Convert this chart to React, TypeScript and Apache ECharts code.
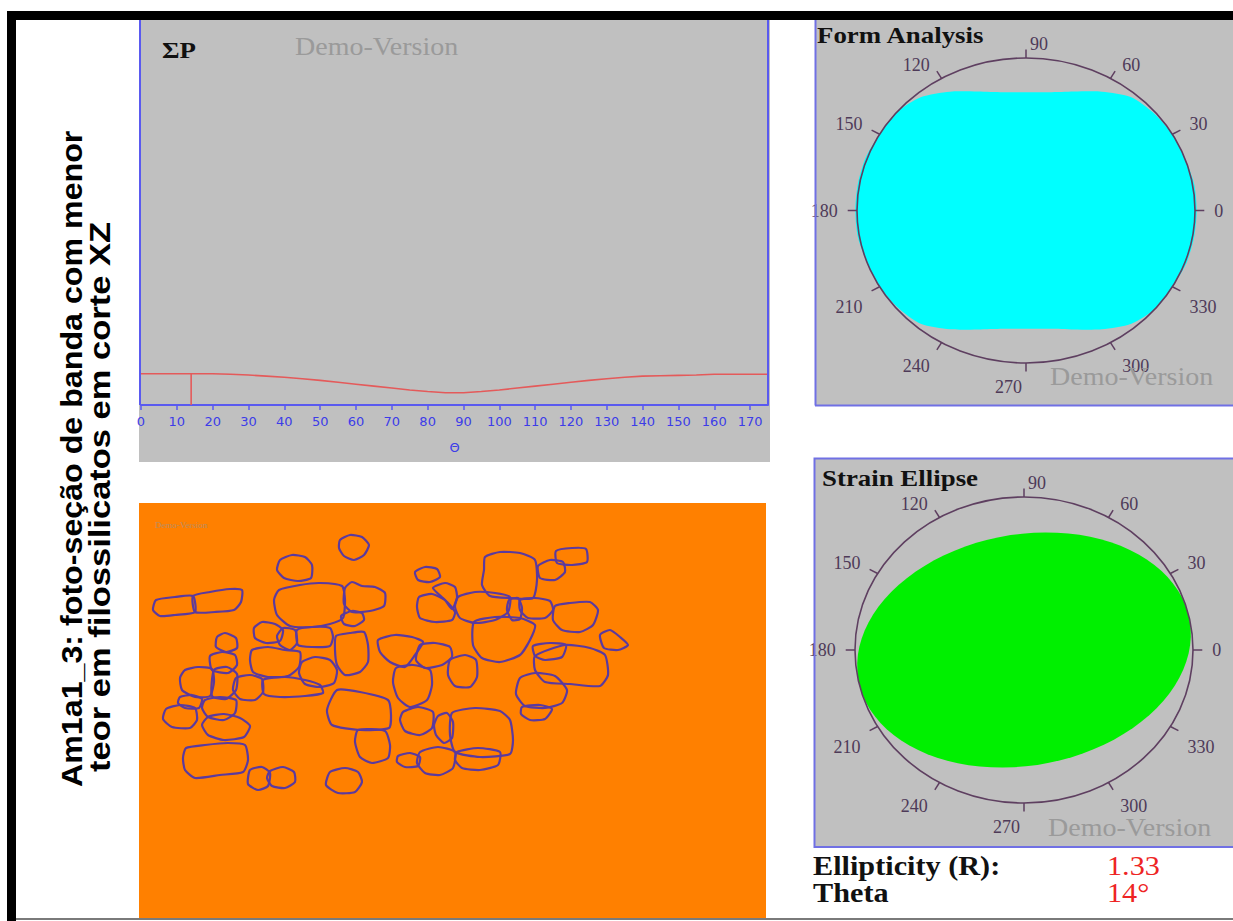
import React, { useEffect, useRef } from "react";
import * as echarts from "echarts";

const PAGE_W = 1233;
const PAGE_H = 921;
const D = Math.PI / 180;

// ΣP profile against Θ, sampled every 5°
const THETA_SAMPLES = [
  0, 5, 10, 15, 20, 25, 30, 35, 40, 45, 50, 55, 60, 65, 70, 75, 80, 85,
  90, 95, 100, 105, 110, 115, 120, 125, 130, 135, 140, 145, 150, 155, 160, 165, 170, 175,
];
const SIGMA_P = [
  8.1, 8.1, 8.1, 8.1, 8.1, 8.0, 7.8, 7.5, 7.2, 6.8, 6.4, 5.9, 5.4, 4.9, 4.4, 3.9, 3.5, 3.2,
  3.2, 3.5, 3.9, 4.4, 4.9, 5.4, 5.9, 6.4, 6.8, 7.2, 7.5, 7.6, 7.7, 7.8, 8.0, 8.0, 8.0, 8.0,
];
const THETA_AXIS_MAX = 175;
const THETA_TICK_STEP = 10;
const SIGMA_AXIS_MAX = 100;

// Form analysis rose: normalised radius every 10° (axial data, 0–170°)
const FORM_ANGLES = [0, 10, 20, 30, 40, 50, 60, 70, 80, 90, 100, 110, 120, 130, 140, 150, 160, 170];
const FORM_RADII = [1.01, 1.01, 1.0, 1.0, 0.99, 0.97, 0.9, 0.83, 0.787, 0.776, 0.787, 0.83, 0.9, 0.97, 1.0, 1.0, 1.01, 1.01];

// Ring tick angles (labelled)
const RING_ANGLES = [0, 30, 60, 90, 120, 150, 180, 210, 240, 270, 300, 330];

// Strain ellipse result
const ELLIPTICITY = 1.33;
const THETA = 14;

// Digitised grain outlines in photo pixels (627 × 415 frame), flat x,y lists
const PHOTO_W = 627;
const PHOTO_H = 415;
const GRAINS: number[][] = [
  [201, 37, 211, 32, 223, 34, 230, 42, 225, 52, 215, 57, 205, 53, 200, 45],
  [141, 57, 153, 52, 166, 54, 173, 62, 172, 75, 159, 78, 145, 75, 138, 67],
  [17, 97, 36, 94, 54, 93, 56, 109, 36, 112, 21, 113, 14, 107],
  [54, 93, 71, 89, 91, 86, 103, 87, 102, 99, 95, 107, 76, 109, 56, 109],
  [140, 87, 161, 82, 181, 80, 203, 83, 206, 97, 204, 115, 191, 121, 173, 124, 151, 123, 138, 112, 135, 97],
  [206, 85, 213, 79, 223, 83, 236, 84, 246, 90, 245, 103, 231, 108, 213, 109, 205, 101],
  [202, 113, 213, 108, 223, 110, 225, 117, 216, 123, 205, 121],
  [276, 69, 286, 64, 298, 66, 301, 74, 291, 79, 279, 77],
  [280, 94, 293, 91, 306, 97, 316, 109, 313, 117, 296, 119, 281, 115, 278, 104],
  [294, 85, 306, 80, 316, 84, 318, 95, 313, 106, 306, 97],
  [115, 125, 123, 119, 136, 121, 144, 127, 141, 138, 127, 140, 116, 135],
  [144, 125, 156, 127, 158, 140, 151, 147, 141, 142, 138, 133],
  [158, 127, 173, 124, 191, 125, 194, 134, 191, 143, 173, 144, 159, 142],
  [78, 134, 86, 130, 97, 135, 98, 145, 87, 149, 77, 144],
  [197, 133, 211, 130, 225, 129, 229, 142, 229, 159, 221, 169, 206, 172, 198, 162, 196, 147],
  [113, 147, 129, 144, 146, 147, 161, 149, 160, 164, 149, 173, 129, 174, 114, 169, 111, 157],
  [163, 159, 176, 154, 191, 157, 198, 167, 195, 180, 181, 184, 166, 181, 160, 170],
  [71, 153, 83, 149, 96, 152, 98, 162, 89, 170, 73, 167],
  [46, 167, 59, 164, 73, 166, 75, 179, 71, 193, 56, 194, 43, 187, 41, 175],
  [75, 167, 88, 164, 98, 171, 97, 187, 87, 196, 73, 193],
  [97, 175, 111, 172, 123, 176, 124, 189, 116, 197, 101, 196, 94, 187],
  [124, 177, 146, 174, 166, 177, 181, 182, 184, 190, 166, 193, 141, 194, 125, 191],
  [41, 194, 53, 192, 63, 196, 60, 205, 46, 205, 39, 200],
  [27, 206, 41, 202, 56, 205, 58, 217, 51, 225, 33, 224, 24, 216],
  [66, 197, 81, 194, 97, 197, 96, 210, 85, 217, 69, 214, 63, 205],
  [69, 214, 85, 211, 101, 215, 111, 223, 105, 234, 85, 237, 69, 232, 63, 222],
  [47, 245, 66, 242, 89, 240, 106, 242, 109, 257, 104, 269, 81, 272, 56, 275, 46, 267, 44, 255],
  [111, 267, 123, 264, 131, 270, 129, 283, 119, 287, 109, 281],
  [131, 268, 144, 264, 155, 269, 156, 279, 146, 285, 133, 283, 128, 275],
  [191, 269, 206, 265, 219, 269, 223, 279, 216, 289, 199, 290, 187, 282],
  [198, 187, 221, 189, 249, 197, 252, 212, 250, 225, 221, 227, 193, 222, 188, 207],
  [219, 227, 246, 228, 251, 242, 249, 255, 233, 260, 221, 254, 216, 239],
  [239, 137, 256, 132, 273, 134, 284, 139, 276, 152, 266, 164, 251, 159, 241, 149],
  [281, 142, 296, 140, 311, 144, 313, 154, 303, 162, 286, 165, 277, 157],
  [257, 165, 274, 162, 291, 167, 293, 182, 288, 197, 271, 204, 259, 195, 254, 179],
  [311, 157, 326, 152, 337, 157, 338, 174, 331, 184, 316, 183, 309, 172],
  [335, 119, 356, 114, 381, 115, 396, 122, 391, 137, 381, 152, 361, 159, 343, 155, 334, 142],
  [264, 209, 279, 204, 294, 209, 293, 225, 281, 232, 266, 228, 261, 217],
  [299, 213, 308, 210, 314, 219, 313, 235, 305, 240, 297, 232, 295, 222],
  [313, 210, 336, 205, 361, 208, 371, 217, 374, 237, 371, 251, 341, 254, 316, 249, 311, 232],
  [259, 253, 271, 250, 281, 254, 279, 263, 266, 264, 258, 259],
  [281, 249, 299, 244, 316, 249, 314, 265, 301, 272, 286, 270, 278, 260],
  [318, 249, 339, 245, 361, 249, 359, 262, 341, 267, 323, 265, 316, 257],
  [346, 54, 361, 49, 381, 50, 396, 57, 398, 77, 394, 95, 371, 95, 351, 93, 343, 82, 345, 67],
  [399, 63, 411, 57, 424, 59, 426, 69, 416, 77, 401, 75],
  [417, 48, 433, 45, 447, 46, 448, 59, 433, 62, 418, 60],
  [319, 94, 336, 89, 356, 90, 371, 94, 369, 109, 356, 117, 336, 120, 321, 115, 316, 104],
  [370, 97, 379, 95, 383, 105, 381, 116, 373, 117, 368, 107],
  [381, 97, 396, 95, 411, 98, 414, 107, 406, 115, 389, 115, 381, 107],
  [416, 103, 431, 100, 451, 99, 459, 107, 454, 122, 441, 129, 423, 127, 414, 117],
  [461, 132, 471, 127, 481, 134, 489, 142, 479, 147, 465, 145],
  [394, 143, 411, 140, 427, 142, 423, 154, 406, 157, 396, 153],
  [396, 153, 426, 142, 451, 145, 466, 152, 469, 172, 461, 183, 431, 181, 406, 179, 396, 167],
  [381, 175, 396, 170, 416, 173, 428, 187, 423, 200, 406, 205, 386, 203, 377, 191],
  [383, 204, 401, 202, 413, 206, 406, 216, 391, 217, 382, 211],
];

const TITLE_LINE_1 = "Am1a1_3: foto-seção de banda com menor";
const TITLE_LINE_2 = "teor em filossilicatos em corte XZ";

const BLUE_LINE = "#5a5af0";
const BLUE_TEXT = "#3c3ce8";
const PANEL_GRAY = "#c0c0c0";
const FRAME_BLUE = "#7070e4";
const RING_COLOR = "#5e3f60";
const RING_TEXT = "#4e3a58";
const DEMO_GRAY = "#9a9a9a";
const SERIF = "'Liberation Serif', 'Times New Roman', serif";
const SANS = "'Liberation Sans', Arial, sans-serif";
const STRETCH = 1.12;

function sigmaAt(theta: number): number {
  for (let i = 0; i < THETA_SAMPLES.length - 1; i++) {
    const a = THETA_SAMPLES[i];
    const b = THETA_SAMPLES[i + 1];
    if (theta >= a && theta <= b) {
      const t = (theta - a) / (b - a);
      return SIGMA_P[i] + t * (SIGMA_P[i + 1] - SIGMA_P[i]);
    }
  }
  return SIGMA_P[SIGMA_P.length - 1];
}

// Axial rose: the 0–170° radii repeat on the opposite side
const ROSE_POINTS: number[][] = [];
for (let k = 0; k < FORM_ANGLES.length * 2; k++) {
  const r = FORM_RADII[k % FORM_ANGLES.length];
  const a = (FORM_ANGLES[k % FORM_ANGLES.length] + (k >= FORM_ANGLES.length ? 180 : 0)) * D;
  ROSE_POINTS.push([r * Math.cos(a), r * Math.sin(a)]);
}

function ringSeries(gridIndex: number) {
  return [
    {
      type: "custom",
      coordinateSystem: "cartesian2d",
      xAxisIndex: gridIndex,
      yAxisIndex: gridIndex,
      silent: true,
      z: 4,
      data: [[0, 0]],
      renderItem: (_params: any, api: any) => {
        const c = api.coord([0, 0]);
        const s = api.size([1, 1]);
        return {
          type: "ellipse",
          shape: { cx: c[0], cy: c[1], rx: s[0], ry: s[1] },
          style: { fill: "none", stroke: RING_COLOR, lineWidth: 1.6 },
        };
      },
    },
    {
      type: "custom",
      coordinateSystem: "cartesian2d",
      xAxisIndex: gridIndex,
      yAxisIndex: gridIndex,
      silent: true,
      z: 4,
      data: RING_ANGLES.map((a) => [Math.cos(a * D), Math.sin(a * D)]),
      renderItem: (params: any, api: any) => {
        const cx = api.value(0);
        const sy = api.value(1);
        const p0 = api.coord([cx, sy]);
        const p1 = api.coord([cx * 1.055, sy * 1.055]);
        const right = cx > 1e-6 || (Math.abs(cx) <= 1e-6 && sy > 0);
        const gap = 4 + 6 * Math.abs(cx);
        let va = "middle";
        let dy = 0;
        if (sy > 0.2) {
          va = "bottom";
          dy = 3;
        } else if (sy < -0.2) {
          va = "top";
          dy = 7;
        }
        return {
          type: "group",
          children: [
            {
              type: "line",
              shape: { x1: p0[0], y1: p0[1], x2: p1[0], y2: p1[1] },
              style: { stroke: RING_COLOR, lineWidth: 1.5 },
            },
            {
              type: "text",
              x: p1[0] + (right ? gap : -gap),
              y: p1[1] + dy,
              style: {
                text: String(RING_ANGLES[params.dataIndex]),
                fill: RING_TEXT,
                fontSize: 18,
                fontFamily: SERIF,
                align: right ? "left" : "right",
                verticalAlign: va,
              },
            },
          ],
        };
      },
    },
  ];
}

function serifText(text: string, x: number, y: number, size: number, opts: any = {}) {
  return {
    type: "text",
    x,
    y,
    scaleX: STRETCH,
    z: 30,
    silent: true,
    style: {
      text,
      fill: opts.fill || "#111111",
      fontSize: size,
      fontFamily: SERIF,
      fontWeight: opts.bold ? "bold" : "normal",
      align: "left",
      verticalAlign: "middle",
    },
  };
}

// One line of the rotated caption, reading bottom to top from (x, y)
function captionLine(text: string, x: number, y: number, along: number) {
  return {
    type: "text",
    x,
    y,
    rotation: Math.PI / 2,
    scaleX: along,
    z: 30,
    silent: true,
    style: {
      text,
      fill: "#000000",
      fontSize: 30,
      fontWeight: "bold",
      fontFamily: SANS,
      align: "left",
      verticalAlign: "middle",
    },
  };
}

export default function App() {
  const ref = useRef<HTMLDivElement>(null);

  useEffect(() => {
    if (!ref.current) return;
    const chart = echarts.init(ref.current, undefined, { renderer: "svg" });

    const option: any = {
      animation: false,
      backgroundColor: "#ffffff",
      grid: [
        { left: 141, top: 20, width: 627, height: 385, show: false },
        { left: 139, top: 503, width: 627, height: 415, show: false },
        { left: 857, top: 58, width: 338, height: 305, show: false },
        { left: 855, top: 497, width: 338, height: 306, show: false },
      ],
      xAxis: [
        {
          gridIndex: 0,
          type: "value",
          min: 0,
          max: THETA_AXIS_MAX,
          interval: THETA_TICK_STEP,
          axisLine: { show: true, onZero: false, lineStyle: { color: BLUE_LINE, width: 2 } },
          axisTick: { show: true, length: 5, lineStyle: { color: BLUE_LINE, width: 1.5 } },
          axisLabel: {
            color: BLUE_TEXT,
            fontSize: 13,
            fontFamily: "'DejaVu Sans', sans-serif",
            margin: 10,
            showMaxLabel: false,
          },
          splitLine: { show: false },
          name: "Θ",
          nameLocation: "middle",
          nameGap: 36,
          nameTextStyle: { color: BLUE_TEXT, fontSize: 13, fontFamily: "'DejaVu Sans', sans-serif" },
        },
        { gridIndex: 1, type: "value", min: 0, max: PHOTO_W, show: false },
        { gridIndex: 2, type: "value", min: -1, max: 1, show: false },
        { gridIndex: 3, type: "value", min: -1, max: 1, show: false },
      ],
      yAxis: [
        { gridIndex: 0, type: "value", min: 0, max: SIGMA_AXIS_MAX, show: false },
        { gridIndex: 1, type: "value", min: 0, max: PHOTO_H, inverse: true, show: false },
        { gridIndex: 2, type: "value", min: -1, max: 1, show: false },
        { gridIndex: 3, type: "value", min: -1, max: 1, show: false },
      ],
      series: [
        {
          type: "line",
          xAxisIndex: 0,
          yAxisIndex: 0,
          silent: true,
          showSymbol: false,
          data: THETA_SAMPLES.map((t, i) => [t, SIGMA_P[i]]),
          lineStyle: { color: "#e45a5a", width: 1.6 },
        },
        {
          type: "line",
          xAxisIndex: 0,
          yAxisIndex: 0,
          silent: true,
          showSymbol: false,
          data: [
            [THETA, 0],
            [THETA, sigmaAt(THETA)],
          ],
          lineStyle: { color: "#e45a5a", width: 1.6 },
        },
        {
          type: "custom",
          coordinateSystem: "cartesian2d",
          xAxisIndex: 1,
          yAxisIndex: 1,
          silent: true,
          data: GRAINS.map((g) => [g[0], g[1]]),
          renderItem: (params: any, api: any) => {
            const flat = GRAINS[params.dataIndex];
            const pts: number[][] = [];
            for (let i = 0; i < flat.length; i += 2) pts.push(api.coord([flat[i], flat[i + 1]]));
            return {
              type: "polygon",
              shape: { points: pts, smooth: 0.2 },
              style: { fill: "none", stroke: "#5b3a9e", lineWidth: 2.2 },
            };
          },
        },
        {
          type: "custom",
          coordinateSystem: "cartesian2d",
          xAxisIndex: 2,
          yAxisIndex: 2,
          silent: true,
          z: 3,
          data: ROSE_POINTS,
          renderItem: (params: any, api: any) => {
            if (params.dataIndex !== 0) return null;
            const pts = ROSE_POINTS.map((p) => api.coord(p));
            return {
              type: "polygon",
              shape: { points: pts, smooth: 0.25 },
              style: { fill: "#00ffff", stroke: "none" },
            };
          },
        },
        ...ringSeries(2),
        {
          type: "custom",
          coordinateSystem: "cartesian2d",
          xAxisIndex: 3,
          yAxisIndex: 3,
          silent: true,
          z: 3,
          data: [[0, 0, ELLIPTICITY, THETA]],
          renderItem: (_params: any, api: any) => {
            const R = api.value(2);
            const th = api.value(3) * D;
            const a = 1;
            const b = 1 / R;
            const pts: number[][] = [];
            for (let t = 0; t < 360; t += 4) {
              const ex = a * Math.cos(t * D);
              const ey = b * Math.sin(t * D);
              pts.push(
                api.coord([ex * Math.cos(th) - ey * Math.sin(th), ex * Math.sin(th) + ey * Math.cos(th)])
              );
            }
            return {
              type: "polygon",
              shape: { points: pts },
              style: { fill: "#00f000", stroke: "none" },
            };
          },
        },
        ...ringSeries(3),
      ],
      graphic: {
        elements: [
          // panel backgrounds
          { type: "rect", z: -1, silent: true, shape: { x: 139, y: 20, width: 631, height: 442 }, style: { fill: PANEL_GRAY } },
          { type: "rect", z: -1, silent: true, shape: { x: 139, y: 503, width: 627, height: 415 }, style: { fill: "#ff8000" } },
          { type: "rect", z: -1, silent: true, shape: { x: 815, y: 20, width: 418, height: 385 }, style: { fill: PANEL_GRAY } },
          { type: "rect", z: -1, silent: true, shape: { x: 814, y: 458, width: 419, height: 389 }, style: { fill: PANEL_GRAY } },
          // panel borders
          { type: "line", z: 20, silent: true, shape: { x1: 140, y1: 20, x2: 140, y2: 405 }, style: { stroke: BLUE_LINE, lineWidth: 2 } },
          { type: "line", z: 20, silent: true, shape: { x1: 768, y1: 20, x2: 768, y2: 405 }, style: { stroke: BLUE_LINE, lineWidth: 2 } },
          { type: "line", z: 20, silent: true, shape: { x1: 815.5, y1: 20, x2: 815.5, y2: 405.5 }, style: { stroke: FRAME_BLUE, lineWidth: 2 } },
          { type: "line", z: 20, silent: true, shape: { x1: 815, y1: 405.5, x2: 1233, y2: 405.5 }, style: { stroke: FRAME_BLUE, lineWidth: 2 } },
          { type: "rect", z: 20, silent: true, shape: { x: 814.5, y: 458.5, width: 430, height: 388.5 }, style: { fill: "none", stroke: FRAME_BLUE, lineWidth: 2 } },
          // outer frame
          { type: "rect", z: 40, silent: true, shape: { x: 7, y: 11, width: 1226, height: 9 }, style: { fill: "#000000" } },
          { type: "rect", z: 40, silent: true, shape: { x: 7, y: 11, width: 9, height: 910 }, style: { fill: "#000000" } },
          { type: "line", z: 40, silent: true, shape: { x1: 16, y1: 919, x2: 1233, y2: 919 }, style: { stroke: "#7a7a7a", lineWidth: 2 } },
          // rotated caption
          captionLine(TITLE_LINE_1, 71.5, 787, 1.073),
          captionLine(TITLE_LINE_2, 99.5, 772, 1.15),
          // panel captions
          serifText("ΣP", 162, 49.5, 24, { bold: true }),
          serifText("Demo-Version", 295, 46.7, 25, { fill: DEMO_GRAY }),
          serifText("Form Analysis", 817, 35, 24, { bold: true }),
          serifText("Demo-Version", 1050, 376.5, 25, { fill: DEMO_GRAY }),
          serifText("Strain Ellipse", 822, 478, 24, { bold: true }),
          serifText("Demo-Version", 1048, 828, 25, { fill: DEMO_GRAY }),
          {
            type: "text",
            x: 155,
            y: 525,
            z: 30,
            silent: true,
            style: { text: "Demo-Version", fill: "#b98d62", fontSize: 9, fontFamily: SERIF, align: "left", verticalAlign: "middle" },
          },
          serifText("Ellipticity (R):", 813, 866, 27, { bold: true }),
          serifText(ELLIPTICITY.toFixed(2), 1107, 866, 27, { fill: "#ee2424" }),
          serifText("Theta", 813, 893, 27, { bold: true }),
          serifText(`${THETA}°`, 1107, 893, 27, { fill: "#ee2424" }),
        ],
      },
    };

    chart.setOption(option);
    return () => chart.dispose();
  }, []);

  return (
    <div
      ref={ref}
      style={{ position: "fixed", left: 0, top: 0, width: PAGE_W, height: PAGE_H, background: "#ffffff" }}
    />
  );
}
